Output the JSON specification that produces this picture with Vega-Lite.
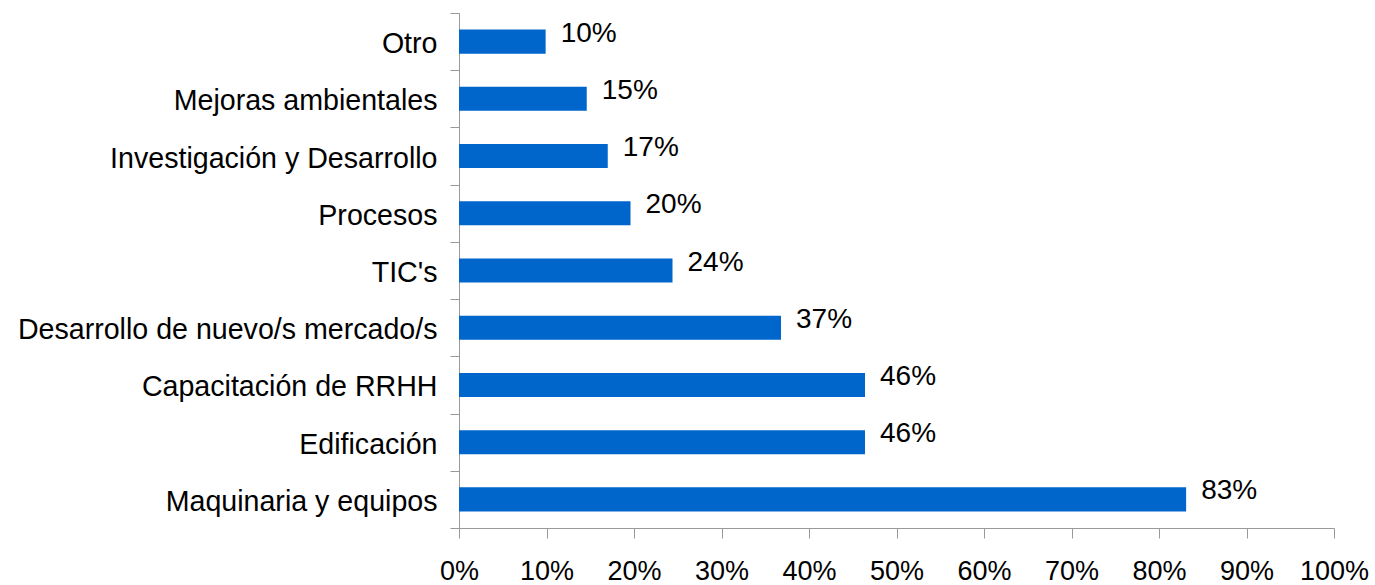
{
  "$schema": "https://vega.github.io/schema/vega-lite/v6.json",
  "autosize": "none",
  "padding": {"left": 459, "top": 13, "right": 41, "bottom": 57},
  "width": 875,
  "height": 515,
  "background": "white",
  "config": {"view": {"stroke": null}, "font": "Liberation Sans"},
  "data": {
    "values": [
      {"category": "Otro", "value": 0.099},
      {"category": "Mejoras ambientales", "value": 0.146},
      {"category": "Investigación y Desarrollo", "value": 0.170},
      {"category": "Procesos", "value": 0.196},
      {"category": "TIC's", "value": 0.244},
      {"category": "Desarrollo de nuevo/s mercado/s", "value": 0.368},
      {"category": "Capacitación de RRHH", "value": 0.464},
      {"category": "Edificación", "value": 0.464},
      {"category": "Maquinaria y equipos", "value": 0.831}
    ]
  },
  "encoding": {
    "y": {
      "field": "category",
      "type": "nominal",
      "sort": null,
      "scale": {"paddingInner": 0, "paddingOuter": 0},
      "axis": {
        "title": null,
        "tickBand": "extent",
        "domainColor": "#999999",
        "tickColor": "#999999",
        "tickSize": 9,
        "labelPadding": 13,
        "labelOffset": 2,
        "labelFont": "Liberation Sans",
        "labelFontSize": 28.6,
        "labelColor": "#000000",
        "labelLimit": 500
      }
    },
    "x": {
      "field": "value",
      "type": "quantitative",
      "scale": {"domain": [0, 1], "nice": false},
      "axis": {
        "title": null,
        "format": ".0%",
        "values": [0, 0.1, 0.2, 0.3, 0.4, 0.5, 0.6, 0.7, 0.8, 0.9, 1],
        "grid": false,
        "domainColor": "#999999",
        "tickColor": "#999999",
        "tickSize": 10,
        "labelPadding": 20,
        "labelFont": "Liberation Sans",
        "labelFontSize": 27,
        "labelColor": "#000000",
        "labelFlush": false
      }
    }
  },
  "layer": [
    {
      "mark": {"type": "bar", "color": "#0066CC", "height": {"band": 0.42}}
    },
    {
      "mark": {"type": "text", "align": "left", "baseline": "middle", "dx": 15, "dy": -8, "fontSize": 28, "font": "Liberation Sans", "color": "#000000"},
      "encoding": {
        "text": {"field": "value", "type": "quantitative", "format": ".0%"}
      }
    }
  ]
}
